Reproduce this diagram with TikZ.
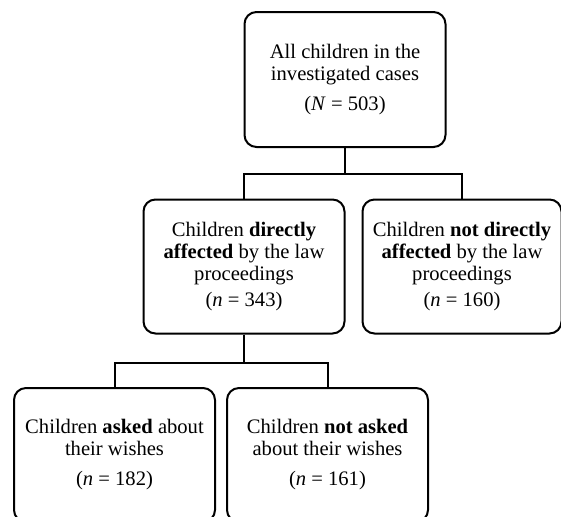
\documentclass[tikz,border=0pt]{standalone}
\usepackage{fontspec}
\setmainfont{Liberation Serif}
\usetikzlibrary{positioning}

\begin{document}
\begin{tikzpicture}[
    box/.style={draw, line width=1pt, rounded corners=6pt, align=center, minimum width=100.5pt, minimum height=67pt, font=\fontsize{10.3}{11}\selectfont},
    link/.style={draw, line width=1pt}
]
\useasboundingbox (0,0) rectangle (280.5pt,-258pt);
\node[box, minimum height=67.5pt] (all) at (172.5pt,-39.75pt) {All children in the\\investigated cases\\[4pt](\textit{N} = 503)};
\node[box] (direct) at (122pt,-133.25pt) {Children \textbf{directly}\\\textbf{affected} by the law\\proceedings\\[2pt](\textit{n} = 343)};
\node[box, minimum width=99.5pt, right=8pt of direct] (indirect) {Children \textbf{not directly}\\\textbf{affected} by the law\\proceedings\\[2pt](\textit{n} = 160)};
\node[box, minimum height=67pt] (asked) at (57.25pt,-227.5pt) {Children \textbf{asked} about\\their wishes\\[4pt](\textit{n} = 182)};
\node[box, minimum height=67pt, right=5pt of asked] (notasked) {Children \textbf{not asked}\\about their wishes\\[4pt](\textit{n} = 161)};
\coordinate[below=13pt of all.south] (fork1);
\coordinate[below=14pt of direct.south] (fork2);
\draw[link] (all.south) -- (fork1) -| (direct.north);
\draw[link] (fork1) -| (indirect.north);
\draw[link] (direct.south) -- (fork2) -| (asked.north);
\draw[link] (fork2) -| (notasked.north);
\end{tikzpicture}
\end{document}
